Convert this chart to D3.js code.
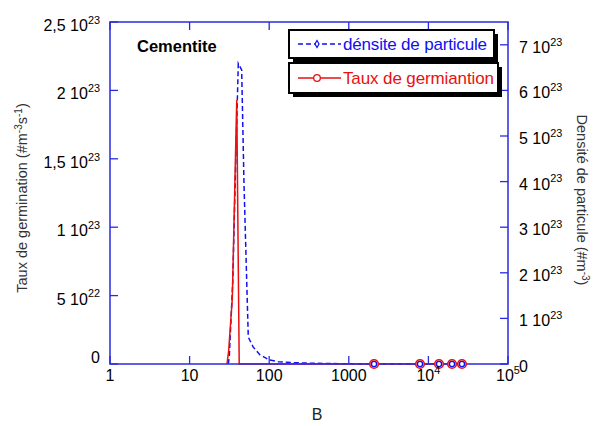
<!DOCTYPE html>
<html><head><meta charset="utf-8">
<script src="https://cdn.jsdelivr.net/npm/d3@7"></script>
<style>body{margin:0;background:#fff}svg{display:block}text{font-family:"Liberation Sans",Arial,Helvetica,sans-serif}</style>
</head><body><svg id="c" width="599" height="426"></svg>
<script>
// ---- data ----
const rateB    = [29.5, 31, 34.4, 39.1, 42, 2075, 7840, 13600, 19800, 26400];
const rateVals = [0, 1.0e22, 4.8e22, 1.93e23, 0, 0, 0, 0, 0, 0];
const densB    = [30.6, 31.5, 34.8, 37.2, 40.9, 45.1, 48.2, 54.6, 63, 76.6, 100, 130, 200, 300, 580, 2075, 7840, 13600, 19800, 26400];
const densVals = [0, 0.15e23, 1.78e23, 3.82e23, 6.59e23, 6.45e23, 3.97e23, 0.59e23, 0.37e23, 0.2e23, 0.09e23, 0.05e23, 0.03e23, 0.02e23, 0.01e23, 0, 0, 0, 0, 0];
const markerB  = [2075, 7840, 13600, 19800, 26400];
const xTicks = [1, 10, 100, 1000, 10000, 100000];
const xTickLabels = [["1",""],["10",""],["100",""],["1000",""],["10","4"],["10","5"]];
const leftTicks = [0, 5e22, 1e23, 1.5e23, 2e23, 2.5e23];
const leftTickLabels = [["0",""],["5 10","22"],["1 10","23"],["1,5 10","23"],["2 10","23"],["2,5 10","23"]];
const rightTicks = [0,1e23,2e23,3e23,4e23,5e23,6e23,7e23];
const rightTickLabels = [["0",""],["1 10","23"],["2 10","23"],["3 10","23"],["4 10","23"],["5 10","23"],["6 10","23"],["7 10","23"]];
const legendLabels = ["dénsite de particule","Taux de germiantion"];

const svg = d3.select("#c");
const L=110, R=508, T=22, B=364;
const blue="#1010f0", axisBlue="#2a2ae0", red="#e81010";
const x = d3.scaleLog().domain([1,1e5]).range([L,R]);
const yL = d3.scaleLinear().domain([0,2.5e23]).range([B,T]);
const yR = d3.scaleLinear().domain([0,7.5e23]).range([B,T]);

function supText(g, parts, fs){
  const t = g.append("text").attr("font-size",fs).attr("fill","#000");
  t.append("tspan").text(parts[0]);
  if(parts[1]) t.append("tspan").attr("font-size",fs*0.68).attr("dy",-fs*0.45).text(parts[1]);
  return t;
}

// data lines
const densLine = d3.line().x((d,i)=>x(densB[i])).y(d=>yR(d));
svg.append("path").attr("d",densLine(densVals)).attr("fill","none").attr("stroke",blue)
  .attr("stroke-width",1.5).attr("stroke-dasharray","5,3");
const rateLine = d3.line().x((d,i)=>x(rateB[i])).y(d=>yL(d));
svg.append("path").attr("d",rateLine(rateVals)).attr("fill","none").attr("stroke",red).attr("stroke-width",1.5);

// axes box
const ax = svg.append("g");
ax.append("rect").attr("x",L).attr("y",T).attr("width",R-L).attr("height",B-T)
  .attr("fill","none").attr("stroke",axisBlue).attr("stroke-width",1.5);
ax.selectAll(".xt").data(xTicks).join("g").each(function(d){
  const g=d3.select(this);
  g.append("line").attr("x1",x(d)).attr("x2",x(d)).attr("y1",B).attr("y2",B-8).attr("stroke",axisBlue).attr("stroke-width",1.3);
  g.append("line").attr("x1",x(d)).attr("x2",x(d)).attr("y1",T).attr("y2",T+8).attr("stroke",axisBlue).attr("stroke-width",1.3);
});
ax.selectAll(".lt").data(leftTicks).join("line").attr("x1",L).attr("x2",L+8)
  .attr("y1",d=>yL(d)).attr("y2",d=>yL(d)).attr("stroke",axisBlue).attr("stroke-width",1.3);
ax.selectAll(".rt").data(rightTicks).join("line").attr("x1",R).attr("x2",R-8)
  .attr("y1",d=>yR(d)).attr("y2",d=>yR(d)).attr("stroke",axisBlue).attr("stroke-width",1.3);

// markers
const mk = svg.append("g");
markerB.forEach(b=>{
  mk.append("circle").attr("cx",x(b)).attr("cy",yL(0)).attr("r",4.3).attr("fill","#fff").attr("stroke",red).attr("stroke-width",1.6);
  mk.append("circle").attr("cx",x(b)).attr("cy",yR(0)).attr("r",2.6).attr("fill","none").attr("stroke",blue).attr("stroke-width",1.4);
});

// tick labels
const fs=16;
xTicks.forEach((d,i)=>{
  supText(svg,xTickLabels[i],fs).attr("x",x(d)).attr("y",381).attr("text-anchor","middle");
});
leftTicks.forEach((d,i)=>{
  supText(svg,leftTickLabels[i],fs).attr("x",100).attr("y",yL(d)+(d===0?-1:9)).attr("text-anchor","end");
});
rightTicks.forEach((d,i)=>{
  supText(svg,rightTickLabels[i],fs).attr("x",519).attr("y",yR(d)+8).attr("text-anchor","start");
});

// axis titles
svg.append("text").attr("x",317).attr("y",420).attr("text-anchor","middle").attr("font-size",16).attr("fill","#222").text("B");
const lt = svg.append("text").attr("transform","translate(27,198) rotate(-90)").attr("text-anchor","middle")
  .attr("font-size",14.5).attr("fill","#333");
lt.append("tspan").text("Taux de germination (#m");
lt.append("tspan").attr("font-size",10).attr("dy",-5).text("-3");
lt.append("tspan").attr("font-size",14.5).attr("dy",5).text("s");
lt.append("tspan").attr("font-size",10).attr("dy",-5).text("-1");
lt.append("tspan").attr("font-size",14.5).attr("dy",5).text(")");
const rt = svg.append("text").attr("transform","translate(577,200) rotate(90)").attr("text-anchor","middle")
  .attr("font-size",14.5).attr("fill","#333");
rt.append("tspan").text("Densité de particule (#m");
rt.append("tspan").attr("font-size",10).attr("dy",-5).text("-3");
rt.append("tspan").attr("font-size",14.5).attr("dy",5).text(")");

svg.append("text").attr("x",137).attr("y",52).attr("font-size",16.5).attr("font-weight","bold").attr("fill","#000").text("Cementite");

// legend
const boxes=[{x:289,y:30,w:205,h:28,c:blue,dash:"5,3",tl:144},{x:289,y:63,w:209,h:30,c:red,dash:null,tl:151}];
boxes.forEach((b,i)=>{
  const g=svg.append("g");
  g.append("rect").attr("x",b.x+4).attr("y",b.y+4).attr("width",b.w).attr("height",b.h).attr("fill","#000");
  g.append("rect").attr("x",b.x).attr("y",b.y).attr("width",b.w).attr("height",b.h).attr("fill","#fff").attr("stroke","#000").attr("stroke-width",2);
  const cy=b.y+b.h/2;
  const ln=g.append("line").attr("x1",b.x+9).attr("x2",b.x+52).attr("y1",cy).attr("y2",cy).attr("stroke",b.c).attr("stroke-width",1.3);
  if(b.dash) ln.attr("stroke-dasharray",b.dash);
  if(i===0){
    g.append("path").attr("d",d3.symbol(d3.symbolDiamond,14)()).attr("transform",`translate(${b.x+28},${cy})`).attr("fill","#fff").attr("stroke",b.c).attr("stroke-width",1.2);
  } else {
    g.append("circle").attr("cx",b.x+28).attr("cy",cy).attr("r",3.3).attr("fill","#fff").attr("stroke",b.c).attr("stroke-width",1.3);
  }
  g.append("text").attr("x",b.x+54).attr("y",cy+6).attr("font-size",17).attr("fill",b.c)
    .attr("textLength",b.tl).attr("lengthAdjust","spacing").text(legendLabels[i]);
});
</script></body></html>
